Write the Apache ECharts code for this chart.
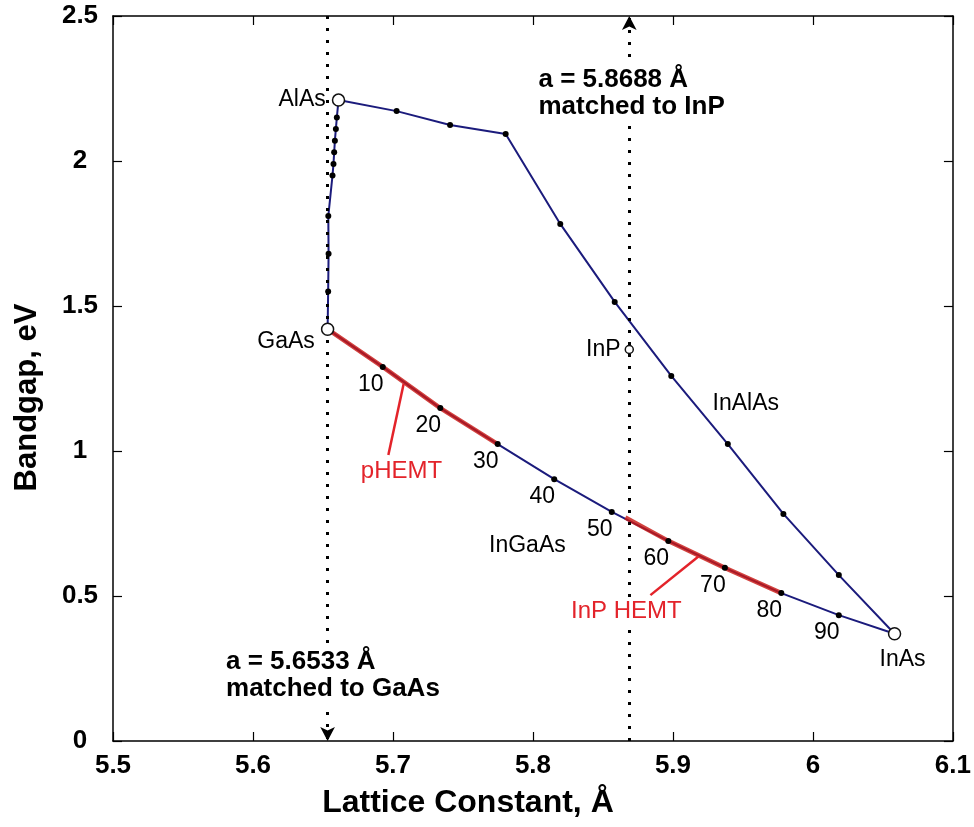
<!DOCTYPE html>
<html>
<head>
<meta charset="utf-8">
<script src="https://cdn.jsdelivr.net/npm/echarts@6/dist/echarts.min.js"></script>
<style>
  html, body { margin: 0; padding: 0; background: #fff; }
  #chart { width: 974px; height: 827px; }
</style>
</head>
<body>
<div id="chart"></div>
<script>
// Axis ticks
const xTicks = [5.5, 5.6, 5.7, 5.8, 5.9, 6.0, 6.1];
const xTickLabels = ['5.5', '5.6', '5.7', '5.8', '5.9', '6', '6.1'];
const yTicks = [0, 0.5, 1, 1.5, 2, 2.5];
const yTickLabels = ['0', '0.5', '1', '1.5', '2', '2.5'];

// Binary compounds: lattice constant (Å) and bandgap (eV)
const binaries = ['GaAs', 'AlAs', 'InAs', 'InP'];
const binaryA = [5.6533, 5.6611, 6.0583, 5.8688];
const binaryEg = [1.42, 2.21, 0.37, 1.35];

// InGaAs (In fraction, %)
const inGaAsPct = [10, 20, 30, 40, 50, 60, 70, 80, 90];
const inGaAsA = [5.6927, 5.7338, 5.7748, 5.8152, 5.8563, 5.8967, 5.9371, 5.9774, 6.0185];
const inGaAsEg = [1.290, 1.148, 1.024, 0.903, 0.790, 0.690, 0.597, 0.510, 0.434];

// InAlAs (AlAs -> InAs)
const inAlAsA = [5.7026, 5.7408, 5.7805, 5.8195, 5.8584, 5.8988, 5.9392, 5.9789, 6.0185];
const inAlAsEg = [2.172, 2.124, 2.093, 1.783, 1.514, 1.259, 1.024, 0.783, 0.572];

// AlGaAs (GaAs -> AlAs)
const alGaAsA = [5.6537, 5.6540, 5.6538, 5.6568, 5.6575, 5.6580, 5.6585, 5.6592, 5.6599];
const alGaAsEg = [1.55, 1.68, 1.81, 1.95, 1.99, 2.03, 2.07, 2.11, 2.15];

// Lattice-matched compositions
const gaasMatch = 5.6533;
const inpMatch = 5.8688;

// Start of the InP HEMT range on the InGaAs curve
const inpHemtStart = [5.866, 0.771];

// Device callouts: leader line ends [curve point, label end]
const pHemtLeader = [[5.7076, 1.231], [5.6967, 0.986]];
const inpHemtLeader = [[5.9182, 0.636], [5.8839, 0.503]];
const calloutNames = ['pHEMT', 'InP HEMT'];
const calloutPos = [[5.7061, 0.931], [5.8667, 0.448]];

// Curve names
const curveNames = ['InAlAs', 'InGaAs'];
const curvePos = [[5.952, 1.162], [5.796, 0.672]];

// Lattice-match notes
const noteText = ['a = 5.8688 Å\nmatched to InP', 'a = 5.6533 Å\nmatched to GaAs'];
const notePos = [[5.8025, 2.234], [5.5793, 0.228]];

const NAVY = '#1b1b7c';
const RED = '#e3232a';
const FONT = '"Liberation Sans", Arial, sans-serif';

const pairs = (xs, ys) => xs.map((x, i) => [x, ys[i]]);
const gaas = [binaryA[0], binaryEg[0]];
const alas = [binaryA[1], binaryEg[1]];
const inas = [binaryA[2], binaryEg[2]];

const inGaAs = pairs(inGaAsA, inGaAsEg);
const inAlAs = pairs(inAlAsA, inAlAsEg);
const alGaAs = pairs(alGaAsA, alGaAsEg);

const curveLine = (data) => ({
  type: 'line', data, showSymbol: false, silent: true, z: 2,
  lineStyle: { color: NAVY, width: 2 }
});

// text-only scatter layer (no visible symbol)
const textLayer = (data, label) => ({
  type: 'scatter', symbolSize: 0, silent: true, z: 6,
  itemStyle: { opacity: 1 },
  data, label: Object.assign({ show: true, formatter: '{b}' }, label)
});

const binaryLabel = {
  GaAs: { position: 'left', distance: 6, offset: [0, 12] },
  AlAs: { position: 'left', distance: 6 },
  InAs: { position: 'bottom', distance: 8, offset: [8, 0] },
  InP: { position: 'left', distance: 4 }
};
const binarySize = { GaAs: 12, AlAs: 12, InAs: 12, InP: 8 };

const chart = echarts.init(document.getElementById('chart'), null, { renderer: 'canvas' });

const axisCommon = {
  axisLine: { show: true, onZero: false, lineStyle: { color: '#000', width: 1.5 } },
  axisTick: { show: true, inside: true, length: 9, lineStyle: { color: '#000', width: 1.2 } },
  splitLine: { show: false }
};

chart.setOption({
  backgroundColor: '#fff',
  animation: false,
  grid: { left: 113, right: 14, top: 16, bottom: 86, containLabel: false },
  xAxis: [
    Object.assign({
      type: 'value', min: xTicks[0], max: xTicks[xTicks.length - 1], interval: 0.1,
      position: 'bottom',
      name: 'Lattice Constant, Å', nameLocation: 'middle', nameGap: 46,
      nameTextStyle: { fontFamily: FONT, fontWeight: 'bold', fontSize: 32, color: '#000', padding: [0, 130, 0, 0] },
      axisLabel: {
        fontFamily: FONT, fontWeight: 'bold', fontSize: 26, color: '#000', margin: 12,
        formatter: (v) => xTickLabels[Math.round((v - xTicks[0]) / 0.1)]
      }
    }, axisCommon),
    Object.assign({
      type: 'value', min: xTicks[0], max: xTicks[xTicks.length - 1], interval: 0.1,
      position: 'top', axisLabel: { show: false }
    }, axisCommon)
  ],
  yAxis: [
    Object.assign({
      type: 'value', min: yTicks[0], max: yTicks[yTicks.length - 1], interval: 0.5,
      position: 'left',
      name: 'Bandgap, eV', nameLocation: 'middle', nameGap: 70, nameRotate: 90,
      nameTextStyle: { fontFamily: FONT, fontWeight: 'bold', fontSize: 31, color: '#000', padding: [0, 38, 0, 0] },
      axisLabel: {
        fontFamily: FONT, fontWeight: 'bold', fontSize: 26, color: '#000', margin: 33, align: 'center',
        formatter: (v) => yTickLabels[Math.round(v / 0.5)]
      }
    }, axisCommon),
    Object.assign({
      type: 'value', min: yTicks[0], max: yTicks[yTicks.length - 1], interval: 0.5,
      position: 'right', axisLabel: { show: false }
    }, axisCommon)
  ],
  series: [
    // lattice-match guides
    {
      type: 'line', data: [], silent: true,
      markLine: {
        silent: true, symbol: ['none', 'arrow'], symbolSize: [11, 14],
        label: { show: false },
        lineStyle: { color: '#000', width: 3, type: [3, 9], cap: 'butt', opacity: 1 },
        data: [
          [{ coord: [gaasMatch, yTicks[yTicks.length - 1]] }, { coord: [gaasMatch, yTicks[0]] }],
          [{ coord: [inpMatch, yTicks[0]] }, { coord: [inpMatch, yTicks[yTicks.length - 1]] }]
        ]
      }
    },
    curveLine([gaas].concat(inGaAs, [inas])),
    curveLine([alas].concat(inAlAs, [inas])),
    curveLine([gaas].concat(alGaAs, [alas])),
    // device ranges on the InGaAs curve
    {
      type: 'line', data: [gaas].concat(inGaAs.slice(0, 3)), showSymbol: false, silent: true, z: 3,
      lineStyle: { color: 'rgba(200,24,20,0.82)', width: 4.5 }
    },
    {
      type: 'line', data: [inpHemtStart].concat(inGaAs.slice(5, 8)), showSymbol: false, silent: true, z: 3,
      lineStyle: { color: 'rgba(200,24,20,0.82)', width: 4.5 }
    },
    // leader lines
    {
      type: 'line', data: pHemtLeader, showSymbol: false, silent: true, z: 3,
      lineStyle: { color: RED, width: 2.5 }
    },
    {
      type: 'line', data: inpHemtLeader, showSymbol: false, silent: true, z: 3,
      lineStyle: { color: RED, width: 2.5 }
    },
    // composition points
    {
      type: 'scatter', data: inGaAs.concat(inAlAs, alGaAs), symbol: 'circle', symbolSize: 6, silent: true, z: 5,
      itemStyle: { color: '#000', opacity: 1 }
    },
    // In fraction labels
    textLayer(
      inGaAs.map((p, i) => ({ value: p, name: String(inGaAsPct[i]) })),
      { position: 'inside', offset: [-12, 18], fontFamily: FONT, fontSize: 23, color: '#000' }
    ),
    // binary compounds
    {
      type: 'scatter', silent: true, z: 7,
      data: binaries.map((n, i) => ({
        value: [binaryA[i], binaryEg[i]], name: n, symbolSize: binarySize[n],
        label: Object.assign({ show: true }, binaryLabel[n])
      })),
      symbol: 'circle',
      itemStyle: { color: '#fff', borderColor: '#111', borderWidth: 1.5, opacity: 1 },
      label: { formatter: '{b}', fontFamily: FONT, fontSize: 23, color: '#000' }
    },
    // curve names
    textLayer(
      curveNames.map((n, i) => ({ value: curvePos[i], name: n })),
      { position: 'inside', fontFamily: FONT, fontSize: 23, color: '#000' }
    ),
    // device callout labels (opaque box hides the guide behind the text)
    textLayer(
      calloutNames.map((n, i) => ({ value: calloutPos[i], name: n })),
      { position: 'inside', fontFamily: FONT, fontSize: 24, color: RED, backgroundColor: '#fff', padding: [1, 2, 0, 2] }
    ),
    // lattice-match notes (opaque box hides the guide behind the text)
    textLayer(
      noteText.map((t, i) => ({ value: notePos[i], name: t })),
      {
        position: 'right', distance: 0, align: 'left',
        fontFamily: FONT, fontSize: 26, fontWeight: 'bold', color: '#000', lineHeight: 27,
        backgroundColor: '#fff', padding: [4, 2, 2, 2]
      }
    )
  ]
});
</script>
</body>
</html>
